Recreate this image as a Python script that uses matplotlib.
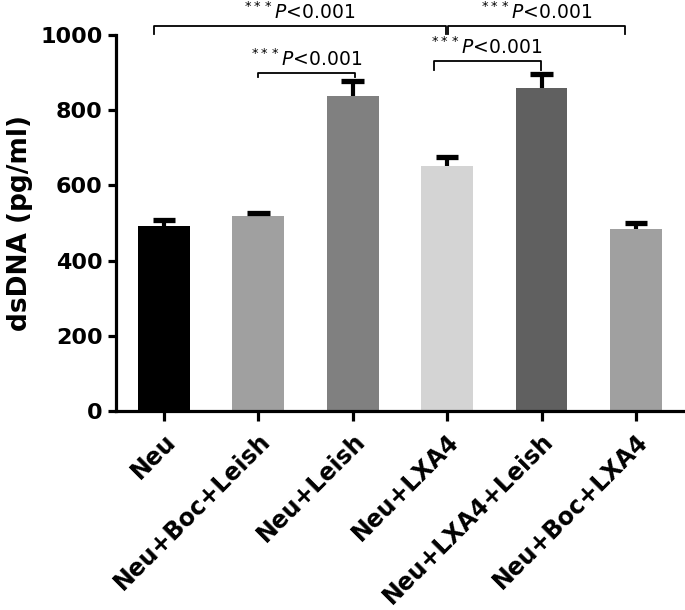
import numpy as np
import matplotlib.pyplot as plt

groups = ["Neu", "Neu+Boc+Leish", "Neu+Leish", "Neu+LXA4", "Neu+LXA4+Leish", "Neu+Boc+LXA4"]
means = [492, 519, 838, 652, 859, 484]
errs = [15, 8, 38, 24, 36, 16]
colors = ["#000000", "#a0a0a0", "#808080", "#d4d4d4", "#606060", "#a0a0a0"]

# brackets: (left group, right group, bar height, left drop, right drop)
brackets = [
    (0, 3, 1024, 1003, 1003),
    (3, 5, 1024, 1003, 1003),
    (1, 2, 899, 888, 888),
    (3, 4, 931, 907, 907),
]
label_p = r"$^{***}\mathit{P}$<0.001"

plt.rcParams["font.family"] = "DejaVu Sans"
plt.rcParams["mathtext.fontset"] = "dejavusans"

fig = plt.figure(figsize=(6.85, 6.1), dpi=100)
ax = fig.add_axes([0.169, 0.326, 0.831, 0.617])

x = np.arange(len(groups))
ax.bar(x, means, width=0.55, color=colors, zorder=2)
tops = np.array(means) + np.array(errs)
ax.vlines(x, means, tops, color="black", lw=3, zorder=3)
ax.hlines(tops, x - 0.12, x + 0.12, color="black", lw=3.8, zorder=3)

# offsets so the brackets sit like the original
xoff = {(0, 3): (-0.11, -0.01), (3, 5): (0.01, -0.12), (1, 2): (0.0, 0.02), (3, 4): (-0.14, -0.01)}
for g1, g2, h, d1, d2 in brackets:
    o1, o2 = xoff[(g1, g2)]
    x1, x2 = g1 + o1, g2 + o2
    ax.plot([x1, x1, x2, x2], [d1, h, h, d2], color="black", lw=1.3, clip_on=False)
    ax.text((x1 + x2) / 2, h + 8, label_p, ha="center", va="bottom", fontsize=13.5,
            fontweight="medium", clip_on=False)

ax.set_xlim(-0.51, 5.52)
ax.set_ylim(0, 1000)
ax.set_yticks([0, 200, 400, 600, 800, 1000])
ax.set_xticks(x)
ax.set_xticklabels(groups, rotation=45, ha="right", rotation_mode="anchor",
                   fontsize=17, fontweight="bold")
for lab in ax.get_yticklabels():
    lab.set_fontsize(16)
    lab.set_fontweight("bold")
ax.set_ylabel("dsDNA (pg/ml)", fontsize=19, fontweight="bold", labelpad=5)

for side in ["top", "right"]:
    ax.spines[side].set_visible(False)
for side in ["left", "bottom"]:
    ax.spines[side].set_linewidth(2.3)
ax.tick_params(axis="y", width=2.3, length=6)
ax.tick_params(axis="x", width=2.3, length=7, pad=6)

fig.savefig("out.png", dpi=100)
